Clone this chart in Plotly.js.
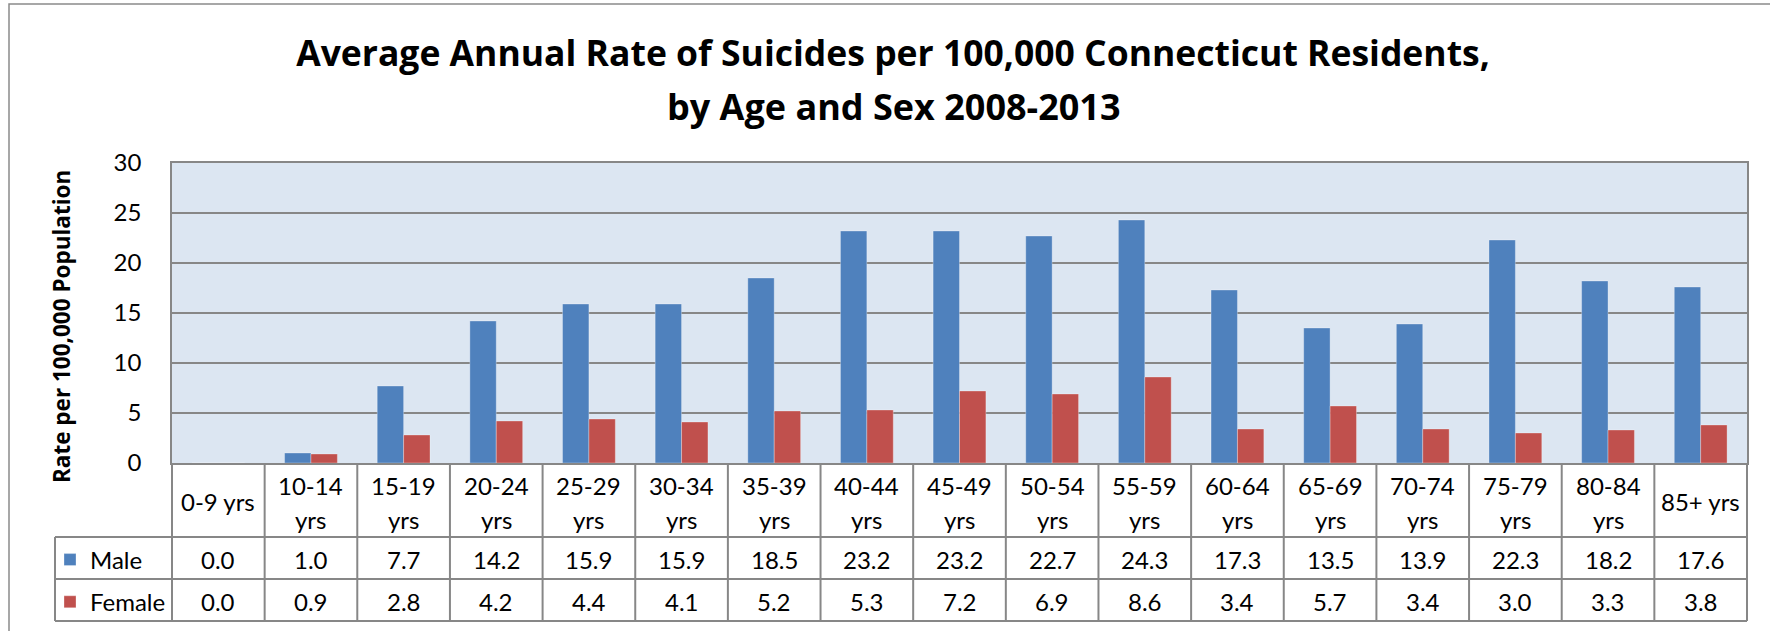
<!DOCTYPE html>
<html>
<head>
<meta charset="utf-8">
<script src="https://cdn.plot.ly/plotly-3.0.1.min.js"></script>
<style>html,body{margin:0;padding:0;background:#fff;}#chart{width:1770px;height:631px;}</style>
</head>
<body>
<div id="chart"></div>
<script>
// ---- data ----
const categories = ['0-9 yrs','10-14 yrs','15-19 yrs','20-24 yrs','25-29 yrs','30-34 yrs','35-39 yrs','40-44 yrs','45-49 yrs','50-54 yrs','55-59 yrs','60-64 yrs','65-69 yrs','70-74 yrs','75-79 yrs','80-84 yrs','85+ yrs'];
const tickLabels = ['0-9 yrs','10-14<br>yrs','15-19<br>yrs','20-24<br>yrs','25-29<br>yrs','30-34<br>yrs','35-39<br>yrs','40-44<br>yrs','45-49<br>yrs','50-54<br>yrs','55-59<br>yrs','60-64<br>yrs','65-69<br>yrs','70-74<br>yrs','75-79<br>yrs','80-84<br>yrs','85+ yrs'];
const maleRates = [0.0, 1.0, 7.7, 14.2, 15.9, 15.9, 18.5, 23.2, 23.2, 22.7, 24.3, 17.3, 13.5, 13.9, 22.3, 18.2, 17.6];
const femaleRates = [0.0, 0.9, 2.8, 4.2, 4.4, 4.1, 5.2, 5.3, 7.2, 6.9, 8.6, 3.4, 5.7, 3.4, 3.0, 3.3, 3.8];
const seriesNames = ['Male', 'Female'];
const titleLine1 = 'Average Annual Rate of Suicides per 100,000 Connecticut Residents,';
const titleLine2 = 'by Age and Sex 2008-2013';
const yTitle = 'Rate per 100,000 Population';

// ---- style ----
const FONT = 'Lato, "Open Sans", sans-serif';
const TFONT = '"Open Sans", Lato, sans-serif';
const GRID = '#878787';
const BLUE = '#4F81BD';
const RED = '#C0504D';

const W = 1770, H = 631;
const plotL = 172, plotR = 1747, plotT = 163, plotB = 463;
const plotH = plotB - plotT, plotW = plotR - plotL;
const py = p => (plotB - p) / plotH;          // pixel y -> paper y
const px = p => (p - plotL) / plotW;          // pixel x -> paper x

const traces = [
  {type: 'bar', name: seriesNames[0], x: categories, y: maleRates, legendgroup: 'm',
   marker: {color: BLUE, line: {width: 1, color: 'rgba(255,255,255,0.3)'}}},
  {type: 'bar', name: seriesNames[1], x: categories, y: femaleRates, legendgroup: 'f',
   marker: {color: RED, line: {width: 1, color: 'rgba(255,255,255,0.3)'}}}
];

const shapes = [];
const annotations = [];
const tLine = {color: GRID, width: 2};
const rowTop = 463, row1 = 537, row2 = 579, row3 = 621, legendLeft = 55;

// outer frame (cropped at right/bottom)
shapes.push({type: 'rect', xref: 'paper', yref: 'paper', x0: px(9), x1: px(1800), y0: py(700), y1: py(4),
  line: {color: '#8a8a8a', width: 1.5}, fillcolor: 'rgba(0,0,0,0)', layer: 'below'});

// table horizontal lines
[row1, row2, row3].forEach(r => {
  shapes.push({type: 'line', xref: 'paper', yref: 'paper', x0: px(legendLeft), x1: 1, y0: py(r), y1: py(r), line: tLine});
});
// table outer verticals
shapes.push({type: 'line', xref: 'paper', yref: 'paper', x0: 0, x1: 0, y0: py(rowTop), y1: py(row3), line: tLine});
shapes.push({type: 'line', xref: 'paper', yref: 'paper', x0: 1, x1: 1, y0: py(rowTop), y1: py(row3), line: tLine});
shapes.push({type: 'line', xref: 'paper', yref: 'paper', x0: px(legendLeft), x1: px(legendLeft), y0: py(row1), y1: py(row3), line: tLine});
// internal verticals at category boundaries
for (let i = 1; i < categories.length; i++) {
  shapes.push({type: 'line', xref: 'x', yref: 'paper', x0: i - 0.5, x1: i - 0.5, y0: py(rowTop), y1: py(row3), line: tLine});
}

const cellFont = {family: FONT, size: 24, color: '#000'};
categories.forEach((c, i) => {
  const parts = tickLabels[i].split('<br>');
  if (parts.length === 1) {
    annotations.push({xref: 'x', yref: 'paper', x: c, y: py(502), text: parts[0], showarrow: false, font: cellFont, xanchor: 'center', yanchor: 'middle'});
  } else {
    annotations.push({xref: 'x', yref: 'paper', x: c, y: py(485), text: parts[0], showarrow: false, font: cellFont, xanchor: 'center', yanchor: 'middle'});
    annotations.push({xref: 'x', yref: 'paper', x: c, y: py(519), text: parts[1], showarrow: false, font: cellFont, xanchor: 'center', yanchor: 'middle'});
  }
  annotations.push({xref: 'x', yref: 'paper', x: c, y: py(559), text: maleRates[i].toFixed(1), showarrow: false, font: cellFont, xanchor: 'center', yanchor: 'middle'});
  annotations.push({xref: 'x', yref: 'paper', x: c, y: py(601), text: femaleRates[i].toFixed(1), showarrow: false, font: cellFont, xanchor: 'center', yanchor: 'middle'});
});

// second title line
annotations.push({xref: 'paper', yref: 'paper', x: px(893), y: py(107), text: titleLine2, showarrow: false,
  font: {family: TFONT, size: 36, color: '#000', weight: 'bold'}, xanchor: 'center', yanchor: 'middle'});

// y axis title (placed to match the reference position)
annotations.push({xref: 'paper', yref: 'paper', x: px(61), y: py(327), text: yTitle, showarrow: false, textangle: -90,
  font: {family: TFONT, size: 22.5, color: '#000', weight: 'bold'}, xanchor: 'center', yanchor: 'middle'});

const layout = {
  width: W, height: H,
  margin: {l: plotL, r: W - plotR, t: plotT, b: H - plotB, pad: 0, autoexpand: false},
  paper_bgcolor: '#ffffff',
  plot_bgcolor: '#DCE6F2',
  font: {family: FONT, color: '#000'},
  title: {text: titleLine1, font: {family: TFONT, size: 35.5, color: '#000', weight: 'bold'},
    xref: 'container', yref: 'container', x: 893 / W, y: 1 - 54 / H, xanchor: 'center', yanchor: 'middle', automargin: false},
  barmode: 'group', bargap: 0.43, bargroupgap: 0,
  showlegend: true,
  legend: {x: px(50), y: py(537.5), xanchor: 'left', yanchor: 'top', orientation: 'v',
    font: {family: FONT, size: 24, color: '#000'}, tracegroupgap: 8, bgcolor: 'rgba(0,0,0,0)', traceorder: 'grouped'},
  xaxis: {type: 'category', range: [-0.5, categories.length - 0.5], showticklabels: false, ticks: '',
    showgrid: false, showline: true, linecolor: GRID, linewidth: 2, mirror: true, fixedrange: true, automargin: false},
  yaxis: {range: [0, 30], dtick: 5, tick0: 0, showgrid: true, gridcolor: GRID, gridwidth: 1.5,
    zeroline: false, showline: true, linecolor: GRID, linewidth: 1.5, mirror: true, ticks: '',
    ticklabelstandoff: 24, tickfont: {family: FONT, size: 24, color: '#000'}, fixedrange: true, automargin: false},
  shapes: shapes,
  annotations: annotations
};

Plotly.newPlot('chart', traces, layout, {displayModeBar: false, responsive: false});
</script>
</body>
</html>
